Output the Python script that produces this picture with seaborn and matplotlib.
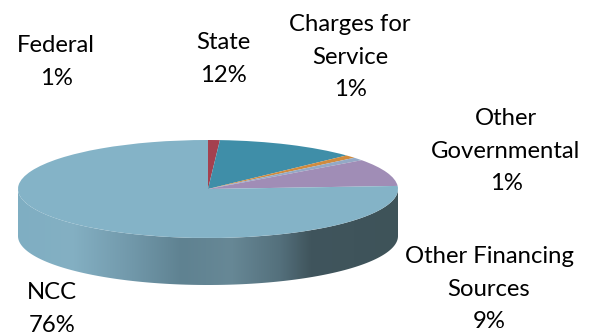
import numpy as np
import matplotlib
matplotlib.use("Agg")
import matplotlib.pyplot as plt
from matplotlib.colors import LinearSegmentedColormap
from matplotlib.patches import Polygon
import seaborn as sns

# Revenue sources, clockwise from twelve o'clock
sources = ["Federal", "State", "Charges for\nService", "Other\nGovernmental",
           "Other Financing\nSources", "NCC"]
shares = [1, 12, 1, 1, 9, 76]
slice_colors = ["#A4414F", "#3F8EA8", "#D08B3E", "#93A9C6", "#A08DB6", "#84B3C7"]

# Label centres in figure pixels (x, y of the block centre, measured from the top)
label_xy = [(56, 62), (223, 59), (350, 57), (506, 151), (489, 289), (52, 309)]

# Shading along the pie's outer wall
wall_stops = [(0.00, "#7FAEC2"), (0.14, "#84B0C3"), (0.30, "#7198AA"), (0.43, "#5F8291"),
              (0.56, "#678896"), (0.69, "#54707C"), (0.77, "#40555D"), (1.00, "#3E5359")]

W, H = 594, 335
CX, CY, RX, RY, DEPTH = 208, 189, 190, 49, 47

sns.set_theme(style="white")
plt.rcParams["font.family"] = ["Lato", "DejaVu Sans"]

fig = plt.figure(figsize=(W / 100, H / 100), dpi=100)
ax = fig.add_axes([0, 0, 1, 1])

# Top face: a unit pie stretched into an ellipse by the axes limits
ax.pie(shares, colors=slice_colors, startangle=90, counterclock=False,
       radius=1, center=(0, 0), wedgeprops={"linewidth": 0}, frame=True)
ax.set_aspect("auto")
xlim = (-CX / RX, (W - CX) / RX)
ylim = ((CY - H) / RY, CY / RY)

# Outer wall: horizontal gradient clipped to the band below the front rim
theta = np.linspace(np.pi, 2 * np.pi, 200)
depth = DEPTH / RY
rim = np.column_stack([np.cos(theta), np.sin(theta)])
low = rim[::-1] - [0, depth]
wall = Polygon(np.vstack([rim, low]), closed=True, facecolor="none", edgecolor="none",
               transform=ax.transData)
ax.add_patch(wall)
wall_cmap = LinearSegmentedColormap.from_list("wall", wall_stops)
img = ax.imshow(np.linspace(0, 1, 256)[None, :], cmap=wall_cmap, aspect="auto",
                extent=(-1, 1, -1 - depth, 0), zorder=0.5, interpolation="bilinear")
img.set_clip_path(wall)

ax.set_xlim(xlim)
ax.set_ylim(ylim)
ax.axis("off")

for name, share, (x, y) in zip(sources, shares, label_xy):
    fig.text(x / W, 1 - y / H, f"{name}\n{share}%", ha="center", va="center",
             fontsize=17.2, color="black", linespacing=1.69)

fig.savefig("out.png", dpi=100)
